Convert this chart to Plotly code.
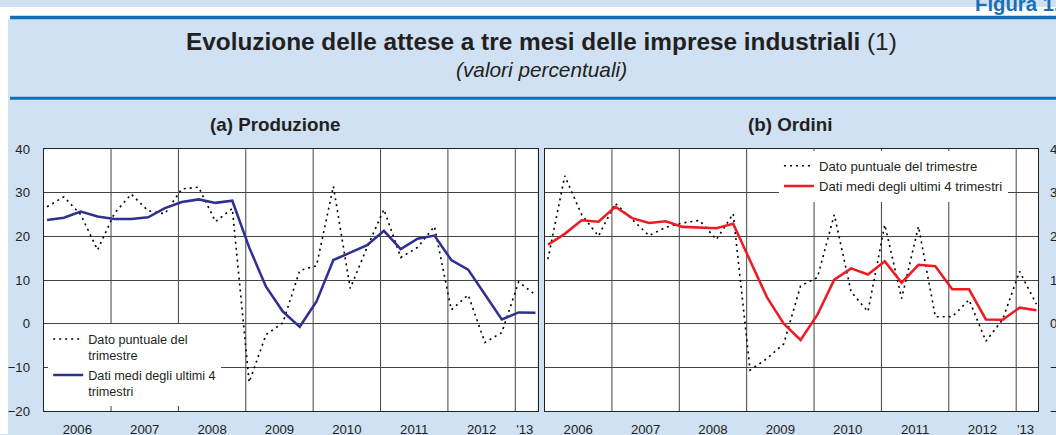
import plotly.graph_objects as go

# ---------------- data ----------------
YEARS = [2006, 2007, 2008, 2009, 2010, 2011, 2012, 2013]
X_TICK_LABELS = ["2006", "2007", "2008", "2009", "2010", "2011", "2012", "'13"]
QUARTERS = [(y, q) for y in range(2006, 2014) for q in (1, 2, 3, 4)][:30]  # 2006Q1 .. 2013Q2

# (a) Produzione
prod_point = [26.8, 29.1, 25.0, 16.9, 25.3, 29.7, 25.9, 25.2, 30.9, 31.3, 23.4, 26.4,
              -13.4, -2.5, 0.2, 12.2, 13.3, 31.5, 8.1, 17.5, 26.2, 15.2, 17.5, 22.3,
              3.2, 6.6, -4.3, -2.0, 9.6, 6.6]
prod_avg = [23.8, 24.3, 25.7, 24.6, 24.0, 24.0, 24.4, 26.5, 27.9, 28.5, 27.7, 28.2,
            17.5, 8.5, 2.8, -0.7, 5.1, 14.6, 16.3, 18.0, 21.3, 17.1, 19.5, 20.2,
            14.6, 12.4, 6.7, 1.0, 2.6, 2.5]

# (b) Ordini
ord_point = [14.8, 33.9, 25.0, 20.1, 27.6, 24.0, 20.2, 22.1, 23.1, 23.7, 19.3, 25.2,
             -10.6, -8.0, -4.6, 8.7, 10.6, 25.0, 7.3, 2.8, 22.7, 5.8, 22.3, 1.6,
             1.6, 5.5, -4.0, 1.0, 12.0, 4.5]
ord_avg = [18.1, 20.6, 23.7, 23.4, 26.8, 24.2, 23.1, 23.5, 22.2, 22.1, 21.9, 22.9,
           14.5, 6.1, 0.0, -3.7, 2.1, 10.1, 12.7, 11.3, 14.3, 9.4, 13.5, 13.2,
           7.9, 7.9, 1.0, 0.9, 3.7, 3.1]

SERIES_NAMES = ["Dato puntuale del trimestre", "Dati medi degli ultimi 4 trimestri"]

# ---------------- layout constants ----------------
W_REF, H_REF = 1056, 435
K = 1072 / 1056                      # compensation for the capture scaling
W, H = round(W_REF * K), round(H_REF * K)
FONT = "Liberation Sans, Arial, Helvetica, sans-serif"
BG = "#cfe1f2"
BAR = "#1170b2"
GRID = "#444444"
TXT = "#231f20"
X_OFFSET = 0.05
X_RANGE = [2006, 2013.33]

xq = [y + (q - 1) / 4 + X_OFFSET for (y, q) in QUARTERS]
tick_pos = [y + 0.5 for y in YEARS[:-1]] + [YEARS[-1] + 0.14]


def px(x):
    return x * K / W


def py(y):
    return 1 - y * K / H


def fs(s):
    return s * K


fig = go.Figure()

dot_style = dict(color="#000000", width=1.6 * K, dash="2px,4px")

fig.add_trace(go.Scatter(x=xq, y=prod_point, mode="lines", line=dot_style,
                         name="Dato puntuale del<br>trimestre", xaxis="x", yaxis="y",
                         legend="legend", legendgroup="a1"))
fig.add_trace(go.Scatter(x=xq, y=prod_avg, mode="lines",
                         line=dict(color="#2e3192", width=2.5 * K),
                         name="Dati medi degli ultimi 4<br>trimestri", xaxis="x", yaxis="y",
                         legend="legend", legendgroup="a2"))
fig.add_trace(go.Scatter(x=xq, y=ord_point, mode="lines", line=dot_style,
                         name=SERIES_NAMES[0], xaxis="x2", yaxis="y2",
                         legend="legend2", legendgroup="b1"))
fig.add_trace(go.Scatter(x=xq, y=ord_avg, mode="lines",
                         line=dict(color="#ed1c24", width=2.5 * K),
                         name=SERIES_NAMES[1], xaxis="x2", yaxis="y2",
                         legend="legend2", legendgroup="b2"))

xcommon = dict(range=X_RANGE, showgrid=False, zeroline=False, showline=True, mirror=True,
               linecolor="#222222", linewidth=1, tickmode="array", tickvals=tick_pos,
               ticktext=X_TICK_LABELS, ticks="", tickfont=dict(size=fs(13), color=TXT, family=FONT),
               ticklabelstandoff=6, fixedrange=True)
ycommon = dict(range=[-20, 40], dtick=10, tick0=0, showgrid=True, gridcolor=GRID, gridwidth=1,
               zeroline=False, showline=True, mirror=True, linecolor="#222222", linewidth=1,
               ticks="", tickfont=dict(size=fs(13), color=TXT, family=FONT),
               fixedrange=True)

shapes = [
    # white margins outside the coloured panel
    dict(type="rect", xref="paper", yref="paper", x0=0, x1=px(8), y0=0, y1=1,
         fillcolor="white", line=dict(width=0), layer="below"),
    dict(type="rect", xref="paper", yref="paper", x0=0, x1=1, y0=py(12), y1=1,
         fillcolor="white", line=dict(width=0), layer="below"),
    # blue rules
    dict(type="rect", xref="paper", yref="paper", x0=px(10), x1=1, y0=py(12.5), y1=py(9),
         fillcolor=BAR, line=dict(width=0), layer="above"),
    dict(type="rect", xref="paper", yref="paper", x0=px(10), x1=1, y0=py(94.5), y1=py(91.5),
         fillcolor=BAR, line=dict(width=0), layer="above"),
]
# vertical year separators
for xr in ("x", "x2"):
    yr_ref = "y domain" if xr == "x" else "y2 domain"
    for yv in YEARS[1:]:
        shapes.append(dict(type="line", xref=xr, yref=yr_ref, x0=yv, x1=yv, y0=0, y1=1,
                           line=dict(color=GRID, width=1), layer="below"))

annotations = [
    dict(text="<b>Evoluzione delle attese a tre mesi delle imprese industriali</b> (1)",
         x=px(539), y=py(35), xref="paper", yref="paper", xanchor="center", yanchor="middle",
         showarrow=False, font=dict(size=fs(24), color=TXT, family=FONT)),
    dict(text="<i>(valori percentuali)</i>",
         x=px(539), y=py(64), xref="paper", yref="paper", xanchor="center", yanchor="middle",
         showarrow=False, font=dict(size=fs(20.5), color=TXT, family=FONT)),
    dict(text="<b>(a) Produzione</b>",
         x=px(273.5), y=py(119.5), xref="paper", yref="paper", xanchor="center", yanchor="middle",
         showarrow=False, font=dict(size=fs(18.5), color=TXT, family=FONT)),
    dict(text="<b>(b) Ordini</b>",
         x=px(787), y=py(119.5), xref="paper", yref="paper", xanchor="center", yanchor="middle",
         showarrow=False, font=dict(size=fs(18.5), color=TXT, family=FONT)),
    dict(text="<b>Figura 1.</b>",
         x=px(1058), y=py(-3), xref="paper", yref="paper", xanchor="right", yanchor="middle",
         showarrow=False, font=dict(size=fs(20), color="#1a6fb5", family=FONT)),
]

fig.update_layout(
    width=W, height=H, autosize=False,
    margin=dict(l=0, r=0, t=0, b=0, pad=0),
    paper_bgcolor=BG, plot_bgcolor="white",
    font=dict(family=FONT, color=TXT, size=fs(13)),
    xaxis=dict(domain=[px(43.5), px(535.5)], anchor="y", **xcommon),
    yaxis=dict(domain=[py(412), py(145)], anchor="x", side="left",
               ticklabelstandoff=10, **ycommon),
    xaxis2=dict(domain=[px(542.5), px(1034.5)], anchor="y2", **xcommon),
    yaxis2=dict(domain=[py(412), py(145)], anchor="x2", side="right",
                ticklabelstandoff=8, **ycommon),
    legend=dict(x=px(48), y=py(323.5), xanchor="left", yanchor="top", bgcolor="white",
                borderwidth=0, valign="top", tracegroupgap=0,
                font=dict(size=fs(12.5), color=TXT, family=FONT)),
    legend2=dict(x=px(776), y=py(146.5), xanchor="left", yanchor="top", bgcolor="white",
                 borderwidth=0, valign="top", tracegroupgap=0,
                 font=dict(size=fs(13), color=TXT, family=FONT)),
    shapes=shapes,
    annotations=annotations,
    showlegend=True,
)

fig.write_html("out.html", config={"displayModeBar": False},
               post_script="document.body.style.margin='0';")
